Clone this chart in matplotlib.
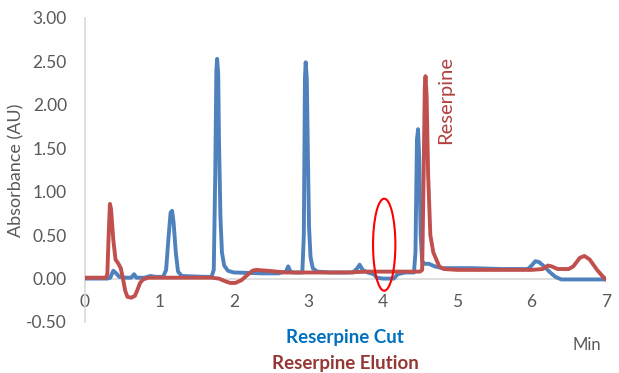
import matplotlib
matplotlib.use("Agg")
import matplotlib.pyplot as plt
from matplotlib.patches import Ellipse

plt.rcParams['font.family'] = ['Lato', 'DejaVu Sans']

# Reserpine Cut (blue)
cut_x = [0.00, 0.30, 0.34, 0.38, 0.42, 0.46, 0.55, 0.62, 0.66, 0.69, 0.80, 0.88, 0.95, 1.05,
         1.09, 1.12, 1.15, 1.17, 1.19, 1.22, 1.25, 1.30, 1.60, 1.70, 1.73, 1.75, 1.765, 1.775,
         1.79, 1.80, 1.82, 1.84, 1.87, 1.92, 2.00, 2.40, 2.60, 2.70, 2.73, 2.76, 2.80, 2.92,
         2.94, 2.955, 2.965, 2.98, 2.995, 3.01, 3.03, 3.06, 3.12, 3.30, 3.60, 3.66, 3.69, 3.73,
         3.80, 3.88, 3.92, 4.00, 4.15, 4.20, 4.30, 4.42, 4.44, 4.46, 4.475, 4.49, 4.51, 4.53,
         4.56, 4.62, 4.70, 4.80, 5.00, 5.20, 5.60, 5.95, 6.00, 6.05, 6.10, 6.17, 6.25, 6.32,
         6.40, 6.60, 7.00]
cut_y = [0.00, 0.00, 0.01, 0.09, 0.06, 0.02, 0.01, 0.01, 0.05, 0.01, 0.01, 0.03, 0.02, 0.02,
         0.10, 0.45, 0.76, 0.78, 0.65, 0.30, 0.08, 0.03, 0.02, 0.02, 0.10, 1.20, 2.40, 2.53,
         2.35, 1.60, 0.70, 0.30, 0.15, 0.09, 0.07, 0.06, 0.06, 0.08, 0.14, 0.08, 0.07, 0.07,
         0.50, 2.30, 2.49, 2.30, 1.40, 0.60, 0.25, 0.12, 0.08, 0.07, 0.07, 0.12, 0.16, 0.10,
         0.07, 0.05, 0.01, 0.00, 0.00, 0.05, 0.07, 0.07, 0.30, 1.60, 1.72, 1.40, 0.50, 0.20,
         0.17, 0.17, 0.14, 0.12, 0.12, 0.12, 0.11, 0.11, 0.15, 0.20, 0.19, 0.14, 0.07, 0.02,
         -0.01, -0.01, -0.01]

# Reserpine Elution (red)
elu_x = [0.00, 0.28, 0.30, 0.32, 0.335, 0.35, 0.38, 0.41, 0.45, 0.48, 0.51, 0.54, 0.57, 0.62,
         0.67, 0.70, 0.74, 0.78, 0.85, 1.00, 1.40, 1.70, 1.80, 1.88, 1.95, 2.02, 2.10, 2.18,
         2.25, 2.30, 2.45, 2.70, 3.00, 3.50, 3.80, 4.00, 4.30, 4.50, 4.53, 4.55, 4.565, 4.575,
         4.59, 4.61, 4.64, 4.68, 4.72, 4.76, 4.82, 5.00, 5.50, 6.00, 6.15, 6.22, 6.27, 6.35,
         6.50, 6.56, 6.65, 6.71, 6.78, 6.88, 6.95, 7.00]
elu_y = [0.01, 0.01, 0.05, 0.55, 0.86, 0.80, 0.45, 0.22, 0.17, 0.12, 0.00, -0.14, -0.21, -0.22,
         -0.20, -0.14, -0.05, -0.01, 0.01, 0.01, 0.01, 0.01, 0.00, -0.03, -0.05, -0.05, -0.02, 0.04,
         0.09, 0.10, 0.09, 0.07, 0.07, 0.07, 0.08, 0.08, 0.08, 0.08, 0.10, 1.20, 2.20, 2.33,
         2.10, 1.20, 0.50, 0.30, 0.22, 0.14, 0.11, 0.10, 0.10, 0.10, 0.11, 0.15, 0.14, 0.11,
         0.11, 0.14, 0.24, 0.26, 0.22, 0.10, 0.03, -0.01]

x_ticks = [0, 1, 2, 3, 4, 5, 6, 7]
y_ticks = [-0.5, 0.0, 0.5, 1.0, 1.5, 2.0, 2.5, 3.0]

W, H = 619, 373
fig = plt.figure(figsize=(W / 100, H / 100), dpi=100)
ax = fig.add_axes([85 / W, 1 - 322 / H, (606 - 85) / W, (322 - 18) / H])

ax.plot(cut_x, cut_y, color='#4F81BD', lw=2.8, solid_joinstyle='round', solid_capstyle='round', zorder=3)
ax.plot(elu_x, elu_y, color='#C0504D', lw=2.8, solid_joinstyle='round', solid_capstyle='round', zorder=4)

ax.set_xlim(0, 7)
ax.set_ylim(-0.5, 3.0)
ax.set_xticks(x_ticks)
ax.set_yticks(y_ticks)
ax.set_yticklabels([f"{v:.2f}" for v in y_ticks])
ax.tick_params(axis='both', length=0, labelsize=12.5, labelcolor='#595959')
ax.tick_params(axis='x', pad=11)
ax.tick_params(axis='y', pad=13)

for s in ['top', 'right']:
    ax.spines[s].set_visible(False)
ax.spines['left'].set_color('#D9D9D9')
ax.spines['left'].set_linewidth(1.2)
ax.spines['bottom'].set_position(('data', 0))
ax.spines['bottom'].set_color('#D9D9D9')
ax.spines['bottom'].set_linewidth(1.2)
ax.spines['bottom'].set_zorder(1)

ax.add_patch(Ellipse((4.02, 0.39), 0.30, 1.06, fill=False, edgecolor='#FF0000', lw=1.5, zorder=5))

ax.text(4.84, 2.06, 'Reserpine', rotation=90, ha='center', va='center',
        color='#B0403E', fontsize=14.5)

fig.text(16 / W, 1 - 170 / H, 'Absorbance (AU)', rotation=90, ha='center', va='center',
         color='#595959', fontsize=13)
fig.text(345 / W, 1 - 337 / H, 'Reserpine Cut', ha='center', va='center',
         color='#0070C0', fontsize=13.5, fontweight='bold')
fig.text(345 / W, 1 - 363 / H, 'Reserpine Elution', ha='center', va='center',
         color='#953735', fontsize=13.5, fontweight='bold')
fig.text(587 / W, 1 - 345 / H, 'Min', ha='center', va='center',
         color='#595959', fontsize=12)

fig.savefig('out.png', dpi=100)
